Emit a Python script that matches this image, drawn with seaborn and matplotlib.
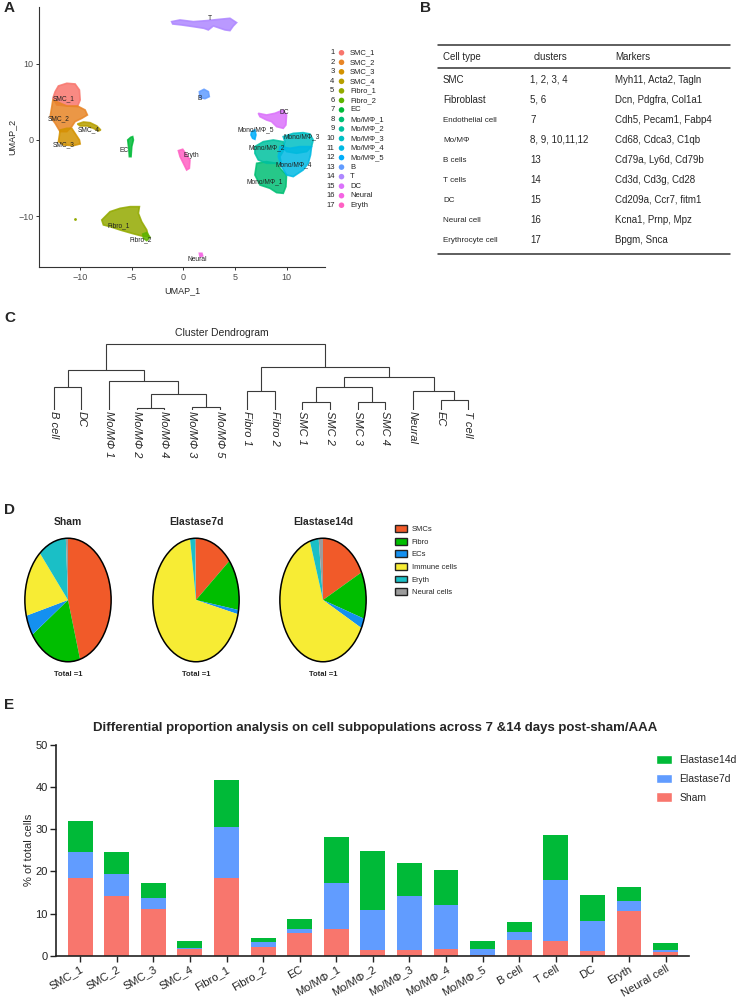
import matplotlib.pyplot as plt
import seaborn as sns
import pandas as pd
import numpy as np
from matplotlib.patches import Patch

# ---------------- data ----------------
# A: UMAP clusters (outline vertices, UMAP units)
umap_names = ['SMC_1', 'SMC_2', 'SMC_3', 'SMC_4', 'Fibro_1', 'Fibro_2', 'EC',
              'Mo/MΦ_1', 'Mo/MΦ_2', 'Mo/MΦ_3', 'Mo/MΦ_4', 'Mo/MΦ_5',
              'B', 'T', 'DC', 'Neural', 'Eryth']
umap_colors = ['#F8766D', '#E88526', '#D39200', '#B79F00', '#93AA00', '#5EB300', '#00BA38',
               '#00BF74', '#00C19F', '#00BFC4', '#00B9E3', '#00ADFA',
               '#619CFF', '#AE87FF', '#DB72FB', '#F564E3', '#FF61C3']
smc1_poly = [(-12.40, 6.34), (-12.08, 7.09), (-11.27, 7.44), (-10.47, 7.35), (-10.05, 6.56), (-9.98, 5.25),
             (-10.24, 4.37), (-11.27, 4.46), (-12.24, 4.59), (-12.62, 5.47)]
smc2_poly = [(-12.62, 5.25), (-11.27, 4.46), (-10.24, 4.46), (-9.50, 3.94), (-9.28, 3.28), (-9.82, 2.84),
             (-10.47, 2.41), (-10.79, 1.75), (-11.27, 1.09), (-11.92, 1.09), (-12.40, 2.19), (-12.88, 3.06),
             (-12.72, 4.37)]
smc3_poly = [(-11.92, 1.31), (-11.27, 1.53), (-10.79, 1.53), (-10.47, 0.87), (-10.05, 0.00), (-9.98, -0.52),
             (-10.63, -0.74), (-11.59, -0.66), (-12.08, -0.22), (-11.98, 0.66)]
smc4_poly = [(-10.24, 2.10), (-9.66, 2.36), (-9.02, 2.27), (-8.37, 1.84), (-7.99, 1.31), (-8.21, 1.18),
             (-8.70, 1.53), (-9.28, 1.84), (-9.98, 1.84)]
fibro1_poly = [(-7.89, -10.50), (-7.09, -9.41), (-6.12, -8.97), (-5.15, -8.75), (-4.25, -8.75), (-4.35, -9.62),
               (-4.03, -10.72), (-3.54, -11.81), (-3.38, -12.69), (-4.03, -12.60), (-4.99, -12.25),
               (-6.12, -11.81), (-7.09, -11.37), (-7.73, -11.15)]
fibro2_poly = [(-3.93, -12.34), (-3.54, -12.16), (-3.22, -12.77), (-3.54, -13.21), (-3.86, -12.90)]
ec_poly = [(-5.38, 0.0), (-5.09, 0.35), (-4.90, 0.44), (-4.83, 0.0), (-4.99, -0.87), (-5.06, -2.19),
           (-5.22, -2.19), (-5.28, -1.09)]
mo1_poly = [(7.09, -3.06), (8.05, -2.84), (9.02, -3.06), (9.50, -3.94), (9.98, -4.59), (9.92, -6.12),
            (9.66, -7.00), (9.02, -6.91), (8.37, -6.34), (7.41, -5.91), (6.92, -4.59)]
mo2_poly = [(6.92, -0.87), (7.73, -0.22), (8.70, 0.0), (9.66, -0.22), (9.82, -1.09), (9.34, -2.19),
            (9.50, -3.28), (9.02, -3.06), (8.05, -3.06), (7.25, -2.62), (6.92, -1.75)]
mo3_poly = [(9.66, 0.44), (10.63, 0.87), (11.59, 0.96), (12.24, 0.79), (12.56, 0.0), (12.40, -0.87),
            (11.92, -1.53), (10.95, -1.75), (9.98, -1.53), (9.66, -0.87), (9.82, -0.22)]
mo4_poly = [(9.34, -0.87), (10.31, -1.09), (11.27, -0.87), (12.40, -0.87), (12.30, -1.97), (12.08, -3.06),
            (11.59, -3.94), (10.63, -4.81), (9.98, -4.59), (9.50, -3.50), (9.18, -2.19)]
mo5_poly = [(6.60, 1.09), (6.92, 1.31), (7.02, 0.66), (6.92, 0.09), (6.70, 0.22), (6.54, 0.66)]
b_poly = [(1.55, 6.34), (2.00, 6.65), (2.42, 6.34), (2.51, 5.69), (2.09, 5.42), (1.61, 5.56)]
t_poly = [(-1.13, 15.53), (-0.32, 15.75), (0.97, 15.53), (2.25, 15.66), (3.54, 15.84), (4.51, 15.97),
          (5.15, 15.40), (4.83, 14.96), (4.51, 14.35), (4.03, 14.44), (2.90, 14.96), (2.42, 14.44),
          (2.00, 14.65), (0.97, 14.87), (-0.16, 15.09), (-1.03, 15.22)]
dc_poly = [(7.25, 3.50), (8.05, 3.28), (8.86, 3.50), (9.66, 3.94), (9.98, 3.28), (9.92, 1.97), (9.66, 1.53),
           (9.02, 1.75), (8.53, 2.41), (8.05, 2.62), (7.41, 3.06)]
neural_poly = [(1.55, -14.87), (1.80, -14.87), (1.87, -15.22), (1.61, -15.31)]
eryth_poly = [(-0.48, -1.40), (-0.06, -1.22), (0.32, -1.97), (0.64, -2.62), (0.58, -3.72), (0.32, -3.94),
              (0.0, -3.06), (-0.32, -2.19)]
umap_polys = [smc1_poly, smc2_poly, smc3_poly, smc4_poly, fibro1_poly, fibro2_poly, ec_poly,
              mo1_poly, mo2_poly, mo3_poly, mo4_poly, mo5_poly, b_poly, t_poly, dc_poly, neural_poly, eryth_poly]
umap_label_text = ['SMC_1', 'SMC_2', 'SMC_3', 'SMC_4', 'Fibro_1', 'Fibro_2', 'EC',
                   'Mono/MΦ_1', 'Mono/MΦ_2', 'Mono/MΦ_3', 'Mono/MΦ_4', 'Mono/MΦ_5',
                   'B', 'T', 'DC', 'Neural', 'Eryth']
umap_label_x = [-11.59, -12.08, -11.59, -9.18, -6.22, -4.12, -5.70, 7.89, 8.05, 11.43, 10.63, 6.99,
                1.61, 2.58, 9.76, 1.35, 0.74]
umap_label_y = [5.47, 2.76, -0.57, 1.40, -11.29, -13.12, -1.40, -5.47, -1.0, 0.44, -3.28, 1.31,
                5.47, 15.97, 3.59, -15.66, -2.10]

# B: marker table
cell_types = ['SMC', 'Fibroblast', 'Endothelial cell', 'Mo/MΦ', 'B cells', 'T cells', 'DC',
              'Neural cell', 'Erythrocyte cell']
cluster_ids = ['1, 2, 3, 4', '5, 6', '7', '8, 9, 10,11,12', '13', '14', '15', '16', '17']
markers = ['Myh11, Acta2, Tagln', 'Dcn, Pdgfra, Col1a1', 'Cdh5, Pecam1, Fabp4', 'Cd68, Cdca3, C1qb',
           'Cd79a, Ly6d, Cd79b', 'Cd3d, Cd3g, Cd28', 'Cd209a, Ccr7, fitm1', 'Kcna1, Prnp, Mpz',
           'Bpgm, Snca']

# C: dendrogram (leaf order + merges: child a, child b, height)
leaves = ['B cell', 'DC', 'Mo/MΦ 1', 'Mo/MΦ 2', 'Mo/MΦ 4', 'Mo/MΦ 3', 'Mo/MΦ 5', 'Fibro 1', 'Fibro 2',
          'SMC 1', 'SMC 2', 'SMC 3', 'SMC 4', 'Neural', 'EC', 'T cell']
merges = [(0, 1, 68), (3, 4, 7), (5, 6, 10), (17, 18, 47), (2, 19, 87), (16, 20, 120),
          (7, 8, 58), (9, 10, 25), (11, 12, 25), (23, 24, 70), (14, 15, 30), (13, 26, 58),
          (25, 27, 100), (22, 28, 130), (21, 29, 197)]

# D: pie fractions
pie_groups = ['Sham', 'Elastase7d', 'Elastase14d']
pie_labels = ['SMCs', 'Fibro', 'ECs', 'Immune cells', 'Eryth', 'Neural cells']
pie_colors = ['#F15A29', '#00BE00', '#1490F0', '#F7EC34', '#1ABFC6', '#9C9C9C']
sham_frac = [0.455, 0.200, 0.054, 0.178, 0.105, 0.008]
e7_frac = [0.141, 0.135, 0.011, 0.691, 0.018, 0.004]
e14_frac = [0.176, 0.123, 0.026, 0.626, 0.033, 0.016]

# E: stacked bars (% of total cells)
bar_cells = ['SMC_1', 'SMC_2', 'SMC_3', 'SMC_4', 'Fibro_1', 'Fibro_2', 'EC', 'Mo/MΦ_1', 'Mo/MΦ_2',
             'Mo/MΦ_3', 'Mo/MΦ_4', 'Mo/MΦ_5', 'B cell', 'T cell', 'DC', 'Eryth', 'Neural cell']
sham_pct = [18.4, 14.2, 11.1, 1.6, 18.5, 2.1, 5.4, 6.3, 1.4, 1.4, 1.5, 0.05, 3.7, 3.5, 1.1, 10.7, 0.9]
e7_pct = [6.2, 5.1, 2.7, 0.2, 12.0, 1.2, 1.0, 10.9, 9.4, 12.8, 10.5, 1.45, 1.9, 14.5, 7.2, 2.2, 0.4]
e14_pct = [7.3, 5.2, 3.4, 1.8, 11.3, 0.9, 2.2, 10.9, 14.0, 7.9, 8.3, 2.0, 2.4, 10.7, 6.2, 3.5, 1.6]
bar_colors = {'Sham': '#F8766D', 'Elastase7d': '#619CFF', 'Elastase14d': '#00BA38'}

# ---------------- figure ----------------
sns.set_theme(style="white")
plt.rcParams['font.family'] = ['Liberation Sans', 'DejaVu Sans']
W, H = 744, 999
fig = plt.figure(figsize=(W / 100, H / 100), dpi=100)


def px_axes(x0, y0, x1, y1):
    return fig.add_axes([x0 / W, 1 - y1 / H, (x1 - x0) / W, (y1 - y0) / H])


def panel_letter(x, y, s):
    fig.text(x / W, 1 - y / H, s, fontsize=11, fontweight='bold', ha='left', va='center')


# ---- A: UMAP ----
axA = px_axes(39, 7, 325, 267)
for poly, col in zip(umap_polys, umap_colors):
    xs = [p[0] for p in poly]
    ys = [p[1] for p in poly]
    axA.fill(xs, ys, facecolor=col, edgecolor=col, lw=1.2, alpha=0.85)
sns.scatterplot(x=[-10.47], y=[-10.37], color='#93AA00', s=4, linewidth=0, ax=axA)
for t, x, y in zip(umap_label_text, umap_label_x, umap_label_y):
    axA.text(x, y, t, fontsize=4.8, ha='center', va='center', color='#222222')
axA.set_xlim(-13.96, 13.7)
axA.set_ylim(-16.67, 17.45)
axA.set_xticks([-10, -5, 0, 5, 10])
axA.set_yticks([-10, 0, 10])
sns.despine(ax=axA)
for s in ['left', 'bottom']:
    axA.spines[s].set_color('#333333')
    axA.spines[s].set_linewidth(0.8)
axA.tick_params(axis='both', which='both', direction='out', length=2.5, width=0.7, colors='#333333',
                labelsize=6.5, labelcolor='#4D4D4D', pad=1.5, left=True, bottom=True)
axA.set_xlabel('UMAP_1', fontsize=6.5, labelpad=3)
axA.set_ylabel('UMAP_2', fontsize=6.5, labelpad=1)

axAL = px_axes(322, 48, 400, 210)
axAL.set_xlim(0, 1)
axAL.set_ylim(16.5, -0.5)
axAL.axis('off')
sns.scatterplot(x=[0.25] * len(umap_names), y=list(range(len(umap_names))), hue=umap_names,
                palette=umap_colors, s=16, linewidth=0, legend=False, ax=axAL)
for i, name in enumerate(umap_names):
    axAL.text(0.16, i, str(i + 1), fontsize=5.5, ha='right', va='center', color='#222222')
    axAL.text(0.36, i, name, fontsize=5.5, ha='left', va='center', color='#222222')
panel_letter(4, 8, 'A')

# ---- B: table ----
axB = px_axes(400, 0, 744, 300)
axB.set_xlim(400, 744)
axB.set_ylim(300, 0)
axB.axis('off')
for yy in [45, 68, 254]:
    axB.plot([438, 730], [yy, yy], color='#333333', lw=1.1)
axB.text(443, 56, 'Cell type', fontsize=7, va='center_baseline')
axB.text(534, 56, 'clusters', fontsize=7, va='center_baseline')
axB.text(615, 56, 'Markers', fontsize=7, va='center_baseline')
for i, (ct, cl, mk) in enumerate(zip(cell_types, cluster_ids, markers)):
    yy = 79 + 20 * i
    axB.text(443, yy, ct, fontsize=7 if i < 2 else 5.8, va='center_baseline')
    axB.text(530, yy, cl, fontsize=7, va='center_baseline')
    axB.text(615, yy, mk, fontsize=7, va='center_baseline')
panel_letter(420, 8, 'B')

# ---- C: dendrogram ----
axC = px_axes(40, 340, 482, 410)
axC.set_xlim(-0.5, 15.5)
axC.set_ylim(0, 209.9)
axC.axis('off')
node_x = list(range(len(leaves)))
node_h = [0] * len(leaves)
for a, b, h in merges:
    xa, xb = node_x[a], node_x[b]
    axC.plot([xa, xa, xb, xb], [node_h[a], h, h, node_h[b]], color='#3a3a3a', lw=0.8,
             solid_joinstyle='miter')
    node_x.append((xa + xb) / 2)
    node_h.append(h)
for i, lab in enumerate(leaves):
    axC.text(i, -4, lab, rotation=-90, ha='center', va='top', fontsize=8, fontstyle='italic',
             clip_on=False)
fig.text(222 / W, 1 - 333 / H, 'Cluster Dendrogram', fontsize=7.5, ha='center', va='center')
panel_letter(4, 318, 'C')

# ---- D: pies ----
pie_centers = [68, 196, 323]
for grp, cx, fr in zip(pie_groups, pie_centers, [sham_frac, e7_frac, e14_frac]):
    ax = px_axes(cx - 44, 537, cx + 44, 663)
    ax.pie(fr, colors=pie_colors, startangle=90, counterclock=False, wedgeprops=dict(linewidth=0))
    ax.add_patch(plt.Circle((0, 0), 1, fill=False, lw=1.1, color='black'))
    ax.set_aspect('auto')
    ax.set_xlim(-1.02, 1.02)
    ax.set_ylim(-1.02, 1.02)
    fig.text(cx / W, 1 - 522 / H, grp, fontsize=7.5, fontweight='bold', ha='center', va='center')
    fig.text(cx / W, 1 - 674 / H, 'Total =1', fontsize=5.5, fontweight='bold', ha='center', va='center')
fig.legend(handles=[Patch(facecolor=c, edgecolor='#222222', lw=1) for c in pie_colors], labels=pie_labels,
           loc='upper left', bbox_to_anchor=(392 / W, 1 - 522 / H), frameon=False, fontsize=5.5,
           handlelength=1.5, handleheight=1.0, labelspacing=0.6, handletextpad=0.7, borderaxespad=0)
panel_letter(4, 510, 'D')

# ---- E: stacked bars ----
axE = px_axes(56, 745, 689, 955.7)
sham_arr = np.array(sham_pct)
e7_top = sham_arr + np.array(e7_pct)
e14_top = e7_top + np.array(e14_pct)
df = pd.DataFrame({'cell': bar_cells, 'Sham': sham_arr, 'Elastase7d': e7_top, 'Elastase14d': e14_top})
for grp in ['Elastase14d', 'Elastase7d', 'Sham']:
    sns.barplot(data=df, x='cell', y=grp, color=bar_colors[grp], width=0.68, linewidth=0,
                saturation=1, ax=axE)
axE.set_xlim(-0.66, 16.64)
axE.set_ylim(0, 50)
axE.set_yticks([0, 10, 20, 30, 40, 50])
axE.set_xlabel('')
axE.set_ylabel('% of total cells', fontsize=8, labelpad=1)
sns.despine(ax=axE)
for s in ['left', 'bottom']:
    axE.spines[s].set_color('#222222')
    axE.spines[s].set_linewidth(1.2)
axE.tick_params(axis='both', direction='out', length=4, width=1, colors='#222222', labelsize=8,
                left=True, bottom=True, pad=2)
plt.setp(axE.get_xticklabels(), rotation=30, ha='right', rotation_mode='anchor')
fig.legend(handles=[Patch(facecolor=bar_colors[g]) for g in ['Elastase14d', 'Elastase7d', 'Sham']],
           labels=['Elastase14d', 'Elastase7d', 'Sham'], loc='upper left',
           bbox_to_anchor=(652 / W, 1 - 751 / H), frameon=False, fontsize=7.5,
           handlelength=1.5, handleheight=1.0, labelspacing=0.8, handletextpad=0.7, borderaxespad=0)
fig.text(375 / W, 1 - 728 / H,
         'Differential proportion analysis on cell subpopulations across 7 &14 days post-sham/AAA',
         fontsize=9.5, fontweight='bold', ha='center', va='center')
panel_letter(4, 705, 'E')

fig.savefig('out.png', dpi=100)
